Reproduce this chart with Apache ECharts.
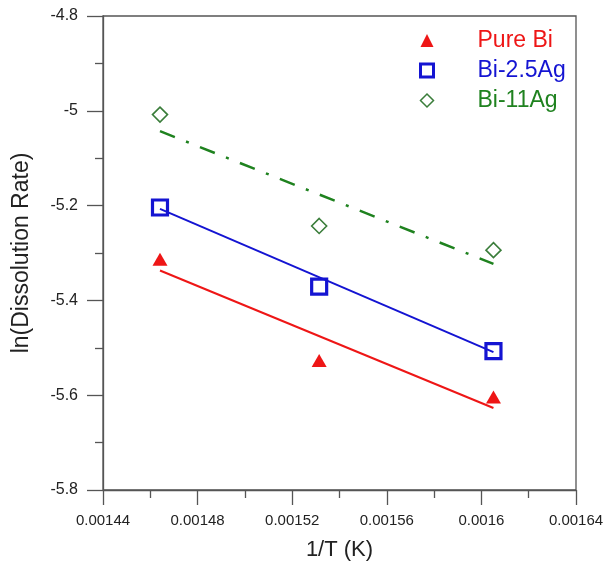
<!DOCTYPE html>
<html>
<head>
<meta charset="utf-8">
<script src="https://cdn.jsdelivr.net/npm/echarts@6/dist/echarts.min.js"></script>
<style>
  html, body { margin: 0; padding: 0; background: #fff; }
  #chart { width: 611px; height: 565px; }
</style>
</head>
<body>
<div id="chart"></div>
<script>
// 1/T (K) at the three test temperatures
const invT = [0.0014641, 0.0015314, 0.0016051]

// measured ln(dissolution rate)
const pureBi = [-5.313, -5.527, -5.604]
const bi25Ag = [-5.204, -5.371, -5.507]
const bi11Ag = [-5.008, -5.243, -5.294]

// fitted line ends (at first and last 1/T)
const fitX = [0.0014641, 0.0016051]
const pureBiFit = [-5.337, -5.627]
const bi25AgFit = [-5.207, -5.509]
const bi11AgFit = [-5.043, -5.323]

const names = ['Pure Bi', 'Bi-2.5Ag', 'Bi-11Ag']
const RED = '#ee1616', BLUE = '#1414d2', GREEN = '#1f821f'

const pts = ys => ys.map((y, i) => [invT[i], y])
const fit = ys => ys.map((y, i) => [fitX[i], y])

const chart = echarts.init(document.getElementById('chart'))
const axisCol = '#555'
const font = 'Liberation Sans, Arial, sans-serif'

chart.setOption({
  animation: false,
  grid: {
    left: 103, right: 35, top: 16, bottom: 75,
    outerBoundsMode: 'none',
    show: true, borderColor: axisCol, borderWidth: 1.3,
  },
  legend: {
    orient: 'vertical',
    left: 414, top: 24,
    itemWidth: 13, itemHeight: 13, itemGap: 7,
    textStyle: { fontFamily: font, fontSize: 23, lineHeight: 23, padding: [0, 0, 0, 39] },
    data: [
      { name: names[0], icon: 'triangle', itemStyle: { color: RED }, textStyle: { color: RED } },
      { name: names[1], icon: 'rect', itemStyle: { color: '#fff', borderColor: BLUE, borderWidth: 3 }, textStyle: { color: BLUE } },
      { name: names[2], icon: 'diamond', itemStyle: { color: '#fff', borderColor: '#3a7d3a', borderWidth: 1.5 }, textStyle: { color: GREEN } },
    ],
  },
  xAxis: {
    type: 'value',
    min: 0.00144, max: 0.00164, interval: 0.00004,
    name: '1/T (K)', nameLocation: 'middle', nameGap: 49,
    nameTextStyle: { fontFamily: font, fontSize: 22, color: '#222' },
    axisLine: { lineStyle: { color: axisCol, width: 1.3 } },
    axisTick: { length: 15, lineStyle: { color: axisCol, width: 1.3 } },
    minorTick: { show: true, splitNumber: 2, length: 8, lineStyle: { color: axisCol, width: 1.3 } },
    axisLabel: { fontFamily: font, fontSize: 15, color: '#222', margin: 23, formatter: v => String(+v.toFixed(5)) },
    splitLine: { show: false },
  },
  yAxis: {
    type: 'value',
    min: -5.8, max: -4.8, interval: 0.2,
    name: 'ln(Dissolution Rate)', nameLocation: 'middle', nameGap: 70,
    nameTextStyle: { fontFamily: font, fontSize: 23, color: '#222' },
    axisLine: { lineStyle: { color: axisCol, width: 1.3 } },
    axisTick: { length: 16, lineStyle: { color: axisCol, width: 1.3 } },
    minorTick: { show: true, splitNumber: 2, length: 8, lineStyle: { color: axisCol, width: 1.3 } },
    axisLabel: { fontFamily: font, fontSize: 16, color: '#222', margin: 25, formatter: v => String(+v.toFixed(1)) },
    splitLine: { show: false },
  },
  series: [
    { name: 'fit1', type: 'line', data: fit(pureBiFit), symbol: 'none', lineStyle: { color: RED, width: 2 } },
    { name: 'fit2', type: 'line', data: fit(bi25AgFit), symbol: 'none', lineStyle: { color: BLUE, width: 2 } },
    { name: 'fit3', type: 'line', data: fit(bi11AgFit), symbol: 'none', lineStyle: { color: GREEN, width: 2.5, type: [16, 12, 3, 12] } },
    { name: names[0], type: 'scatter', data: pts(pureBi), symbol: 'triangle', symbolSize: [15, 13], itemStyle: { color: RED, opacity: 1 } },
    { name: names[1], type: 'scatter', data: pts(bi25Ag), symbol: 'rect', symbolSize: 15, itemStyle: { color: '#fff', borderColor: BLUE, borderWidth: 3.2, opacity: 1 } },
    { name: names[2], type: 'scatter', data: pts(bi11Ag), symbol: 'diamond', symbolSize: 15, itemStyle: { color: '#fff', borderColor: '#3a7d3a', borderWidth: 1.6, opacity: 1 } },
  ],
})
</script>
</body>
</html>
